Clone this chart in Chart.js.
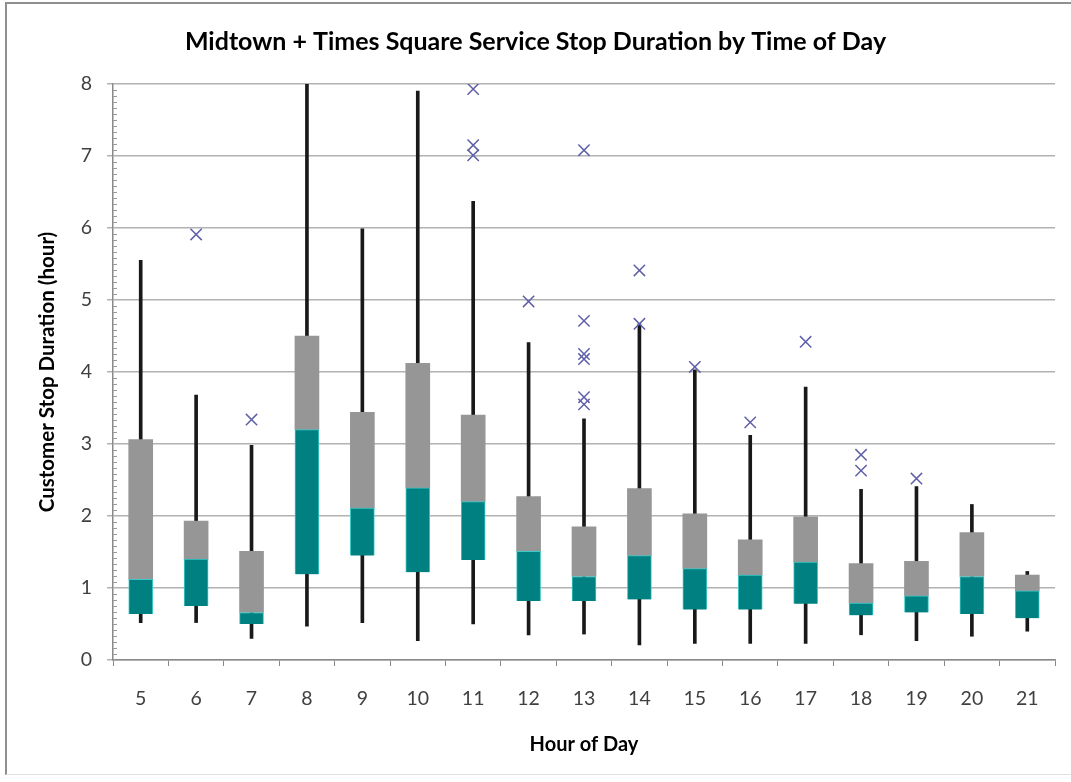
<!DOCTYPE html>
<html>
<head>
<meta charset="utf-8">
<script src="https://cdn.jsdelivr.net/npm/chart.js@4/dist/chart.umd.min.js"></script>
<style>
  html, body { margin: 0; padding: 0; background: #fff; }
  #wrap { position: relative; width: 1071px; height: 782px; overflow: hidden; }
  #frame { position: absolute; left: 5px; top: 2px; width: 1100px; height: 770px;
           border-left: 2px solid #8f8f8f; border-top: 2px solid #8f8f8f; border-bottom: 1px solid #e2e2e2; }
  #grafico { position: absolute; left: 0; top: 0; }
</style>
</head>
<body>
<div id="wrap">
  <div id="frame"></div>
  <canvas id="grafico" width="1071" height="782"></canvas>
</div>
<script>
// hour of day
const hours = ['5', '6', '7', '8', '9', '10', '11', '12', '13', '14', '15', '16', '17', '18', '19', '20', '21'];

// box plot values (hours)
const q1 =          [0.64, 0.75, 0.50, 1.19, 1.45, 1.22, 1.39, 0.82, 0.82, 0.84, 0.70, 0.70, 0.78, 0.62, 0.66, 0.64, 0.58];
const median =      [1.12, 1.40, 0.66, 3.20, 2.11, 2.39, 2.20, 1.51, 1.16, 1.45, 1.27, 1.18, 1.36, 0.79, 0.89, 1.16, 0.96];
const q3 =          [3.06, 1.93, 1.51, 4.50, 3.44, 4.12, 3.40, 2.27, 1.85, 2.38, 2.03, 1.67, 1.99, 1.34, 1.37, 1.77, 1.18];
const whiskerLow =  [0.52, 0.52, 0.30, 0.47, 0.52, 0.27, 0.50, 0.35, 0.36, 0.21, 0.23, 0.23, 0.23, 0.35, 0.27, 0.33, 0.40];
const whiskerHigh = [5.55, 3.68, 2.98, 8.00, 5.99, 7.90, 6.37, 4.41, 3.35, 4.67, 4.03, 3.12, 3.79, 2.37, 2.41, 2.16, 1.23];

// outliers
const outlierHours =  ['6', '7', '11', '11', '11', '12', '13', '13', '13', '13', '13', '13', '14', '14', '15', '16', '17', '18', '18', '19'];
const outlierValues = [5.91, 3.34, 7.93, 7.15, 7.01, 4.98, 7.08, 4.71, 4.25, 4.18, 3.65, 3.55, 5.41, 4.67, 4.07, 3.30, 4.42, 2.85, 2.63, 2.52];

const yTicks = [0, 1, 2, 3, 4, 5, 6, 7, 8];

const fonte = 'Lato, "Open Sans", sans-serif';

// pequenos traços de 5 minutos no eixo y
const minorTicks = {
  id: 'minorTicks',
  afterDraw(chart) {
    const y = chart.scales.y;
    const c = chart.ctx;
    c.save();
    c.strokeStyle = '#9a9a9a';
    c.lineWidth = 1;
    for (let i = 1; i < 8 * 12; i++) {
      if (i % 12 === 0) continue;
      const py = Math.round(y.getPixelForValue(i / 12)) + 0.5;
      c.beginPath();
      c.moveTo(y.right, py);
      c.lineTo(y.right + 4, py);
      c.stroke();
    }
    c.restore();
  }
};

const ctx = document.getElementById('grafico').getContext('2d');

const config = {
  type: 'bar',
  data: {
    labels: hours,
    datasets: [
      {
        type: 'line',
        label: 'Outliers',
        data: outlierHours.map((h, i) => ({ x: h, y: outlierValues[i] })),
        showLine: false,
        pointStyle: 'crossRot',
        pointRadius: 8,
        pointBorderColor: 'rgb(96, 96, 168)',
        pointBorderWidth: 1.5,
        order: 0
      },
      {
        label: 'Q1-Median',
        data: hours.map((h, i) => [q1[i], median[i]]),
        backgroundColor: 'rgb(0, 128, 128)',
        borderColor: 'rgb(60, 200, 200)',
        borderWidth: { top: 1, left: 1, right: 1, bottom: 0 },
        borderSkipped: false,
        barThickness: 24,
        grouped: false,
        order: 1
      },
      {
        label: 'Median-Q3',
        data: hours.map((h, i) => [median[i], q3[i]]),
        backgroundColor: 'rgb(150, 150, 150)',
        borderWidth: 0,
        barThickness: 24,
        grouped: false,
        order: 2
      },
      {
        label: 'Whisker',
        data: hours.map((h, i) => [whiskerLow[i], whiskerHigh[i]]),
        backgroundColor: 'rgb(25, 25, 25)',
        borderWidth: 0,
        barThickness: 3,
        grouped: false,
        order: 3
      }
    ]
  },
  options: {
    responsive: false,
    animation: false,
    devicePixelRatio: 1,
    layout: {
      padding: { left: 16, right: 16, top: 0, bottom: 16 }
    },
    scales: {
      x: {
        offset: true,
        grid: {
          offset: true,
          drawOnChartArea: false,
          drawTicks: true,
          tickLength: 6,
          color: '#8a8a8a'
        },
        border: { display: true, color: '#8a8a8a', width: 1.5 },
        ticks: {
          color: '#404040',
          font: { family: fonte, size: 19.5 },
          padding: 21
        },
        title: {
          display: true,
          text: 'Hour of Day',
          color: '#000',
          font: { family: fonte, size: 20, weight: 'bold' },
          padding: { top: 0, bottom: 9 }
        },
        afterFit(scale) { scale.height = 106; }
      },
      y: {
        min: 0,
        max: 8,
        afterBuildTicks(scale) { scale.ticks = yTicks.map(v => ({ value: v })); },
        grid: {
          color: '#b2b2b2',
          lineWidth: 1.5,
          drawTicks: true,
          tickLength: 6
        },
        border: { display: true, color: '#8a8a8a', width: 1.5 },
        ticks: {
          color: '#404040',
          font: { family: fonte, size: 19.5 },
          padding: 15
        },
        title: {
          display: true,
          text: 'Customer Stop Duration (hour)',
          color: '#000',
          font: { family: fonte, size: 20.5, weight: 'bold' },
          padding: { top: 19, bottom: 0 }
        },
        afterFit(scale) { scale.width = 97; }
      }
    },
    plugins: {
      legend: { display: false },
      tooltip: { enabled: false },
      title: {
        display: true,
        text: 'Midtown + Times Square Service Stop Duration by Time of Day',
        color: '#000',
        font: { family: fonte, size: 25, weight: 'bold' },
        padding: { top: 27, bottom: 27 }
      }
    }
  },
  plugins: [minorTicks]
};

const grafico = new Chart(ctx, config);
</script>
</body>
</html>
